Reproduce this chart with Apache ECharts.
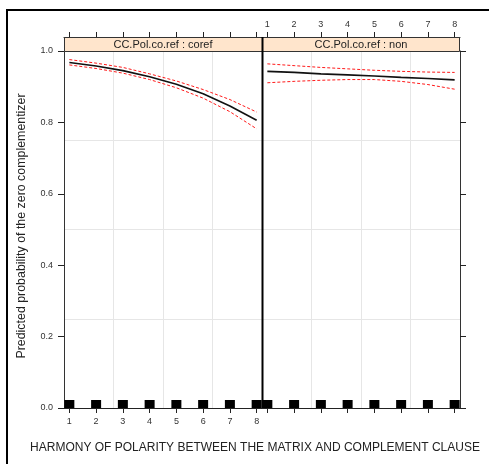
<!DOCTYPE html>
<html><head><meta charset="utf-8">
<script src="https://cdn.jsdelivr.net/npm/echarts@6/dist/echarts.min.js"></script>
<style>html,body{margin:0;padding:0;background:#fff}#c{width:489px;height:464px}</style>
</head><body><div id="c"></div>
<script>
// ---- data ----
const xTicks = [1, 2, 3, 4, 5, 6, 7, 8];
const yTicks = [0, 0.2, 0.4, 0.6, 0.8, 1.0];
const panelLabels = ['CC.Pol.co.ref : coref', 'CC.Pol.co.ref : non'];
const corefFit   = [0.968, 0.958, 0.945, 0.928, 0.907, 0.880, 0.846, 0.806];
const corefUpper = [0.976, 0.966, 0.954, 0.936, 0.916, 0.892, 0.864, 0.829];
const corefLower = [0.961, 0.951, 0.938, 0.920, 0.897, 0.868, 0.830, 0.782];
const nonFit   = [0.943, 0.940, 0.936, 0.933, 0.930, 0.926, 0.923, 0.919];
const nonUpper = [0.964, 0.959, 0.954, 0.950, 0.946, 0.943, 0.941, 0.940];
const nonLower = [0.911, 0.915, 0.918, 0.920, 0.920, 0.915, 0.906, 0.893];
const rugX = [1, 2, 3, 4, 5, 6, 7, 8];
const xTitle = 'HARMONY OF POLARITY BETWEEN THE MATRIX AND COMPLEMENT CLAUSE';
const yTitle = 'Predicted probability of the zero complementizer';

// ---- layout ----
const L0 = 64, PW = 198, TOP = 51, PH = 357, STRIP = 14;
const L1 = L0 + PW;
const FONT = 'Liberation Sans';
const tickColor = '#222', labColor = '#333';

const chart = echarts.init(document.getElementById('c'), null, {renderer: 'canvas'});
const pair = arr => xTicks.map((x, i) => [x, arr[i]]);

function xAx(gi, pos, showLab, offset) {
  return {
    type: 'value', gridIndex: gi, position: pos, offset: offset || 0,
    min: 0.8, max: 8.2,
    axisLine: {show: true, onZero: false, lineStyle: {color: '#222', width: 1}},
    axisTick: {show: true, customValues: xTicks, length: 5, lineStyle: {color: tickColor}},
    axisLabel: {show: showLab, customValues: xTicks, margin: pos === 'bottom' ? 9 : 8,
      fontFamily: FONT, fontSize: 9, color: labColor},
    splitLine: {show: false}
  };
}
function gridAx(gi) {
  return {
    type: 'value', gridIndex: gi, min: 0, max: 4, interval: 1,
    axisLine: {show: false}, axisTick: {show: false}, axisLabel: {show: false},
    splitLine: {show: true, lineStyle: {color: '#e6e6e6', width: 1}}
  };
}
function yAx(gi, pos, showLab, showTick) {
  return {
    type: 'value', gridIndex: gi, position: pos, min: 0, max: 1, interval: 0.2,
    axisLine: {show: true, onZero: false, lineStyle: {color: '#333', width: 1}},
    axisTick: {show: showTick, length: 6, lineStyle: {color: tickColor}},
    axisLabel: {show: showLab, margin: 11, fontFamily: FONT, fontSize: 9, color: labColor,
      formatter: v => v.toFixed(1)},
    splitLine: {show: false}
  };
}

const lineS = (name, xi, yi, arr, main) => ({
  name, type: 'line', xAxisIndex: xi, yAxisIndex: yi, data: pair(arr),
  showSymbol: false, symbol: 'none', z: main ? 5 : 4,
  lineStyle: main ? {color: '#111', width: 1.6} : {color: '#ff1a1a', width: 1, type: [3, 2]}
});
const rugS = (xi, yi) => ({
  type: 'scatter', xAxisIndex: xi, yAxisIndex: yi, data: rugX.map(x => [x, 0]),
  symbol: 'rect', symbolSize: [10, 8], symbolOffset: [0, -4], clip: false,
  itemStyle: {color: '#000', opacity: 1}, z: 6
});

const option = {
  animation: false,
  backgroundColor: '#fff',
  grid: [
    {left: L0, top: TOP, width: PW, height: PH},
    {left: L1, top: TOP, width: PW, height: PH}
  ],
  xAxis: [
    xAx(0, 'bottom', true), xAx(0, 'top', false, STRIP),
    xAx(1, 'bottom', false), xAx(1, 'top', true, STRIP),
    gridAx(0), gridAx(1)
  ],
  yAxis: [
    yAx(0, 'left', true, true), yAx(1, 'right', false, true),
    gridAx(0), gridAx(1)
  ],
  series: [
    lineS('coref upper', 0, 0, corefUpper, false),
    lineS('coref lower', 0, 0, corefLower, false),
    lineS('coref fit', 0, 0, corefFit, true),
    lineS('non upper', 2, 1, nonUpper, false),
    lineS('non lower', 2, 1, nonLower, false),
    lineS('non fit', 2, 1, nonFit, true),
    rugS(0, 0), rugS(2, 1)
  ],
  graphic: [
    // outer frame
    {type: 'line', shape: {x1: 6, y1: 10, x2: 489, y2: 10}, style: {stroke: '#000', lineWidth: 2}},
    {type: 'line', shape: {x1: 7, y1: 9, x2: 7, y2: 464}, style: {stroke: '#000', lineWidth: 2}},
    // strips
    {type: 'rect', shape: {x: L0 + 0.5, y: TOP - STRIP + 0.5, width: PW, height: STRIP},
      style: {fill: '#ffe5cc', stroke: '#333', lineWidth: 1}, z: 10},
    {type: 'rect', shape: {x: L1 + 0.5, y: TOP - STRIP + 0.5, width: PW - 1, height: STRIP},
      style: {fill: '#ffe5cc', stroke: '#333', lineWidth: 1}, z: 10},
    {type: 'text', x: L0 + PW / 2, y: TOP - STRIP / 2 + 0.5, z: 11,
      style: {text: panelLabels[0], fontFamily: FONT, fontSize: 11, fill: '#222', align: 'center', verticalAlign: 'middle'}},
    {type: 'text', x: L1 + PW / 2, y: TOP - STRIP / 2 + 0.5, z: 11,
      style: {text: panelLabels[1], fontFamily: FONT, fontSize: 11, fill: '#222', align: 'center', verticalAlign: 'middle'}},
    // divider
    {type: 'line', shape: {x1: L1 + 0.5, y1: TOP - STRIP, x2: L1 + 0.5, y2: TOP + PH}, style: {stroke: '#000', lineWidth: 2}, z: 12},
    // axis titles
    {type: 'text', x: 255, y: 448, z: 11,
      style: {text: xTitle, fontFamily: FONT, fontSize: 12, fill: '#222', align: 'center', verticalAlign: 'middle'}},
    {type: 'text', x: 22, y: 226, rotation: Math.PI / 2, z: 11,
      style: {text: yTitle, fontFamily: FONT, fontSize: 12.4, fill: '#222', align: 'center', verticalAlign: 'middle'}}
  ]
};
chart.setOption(option);
</script></body></html>
